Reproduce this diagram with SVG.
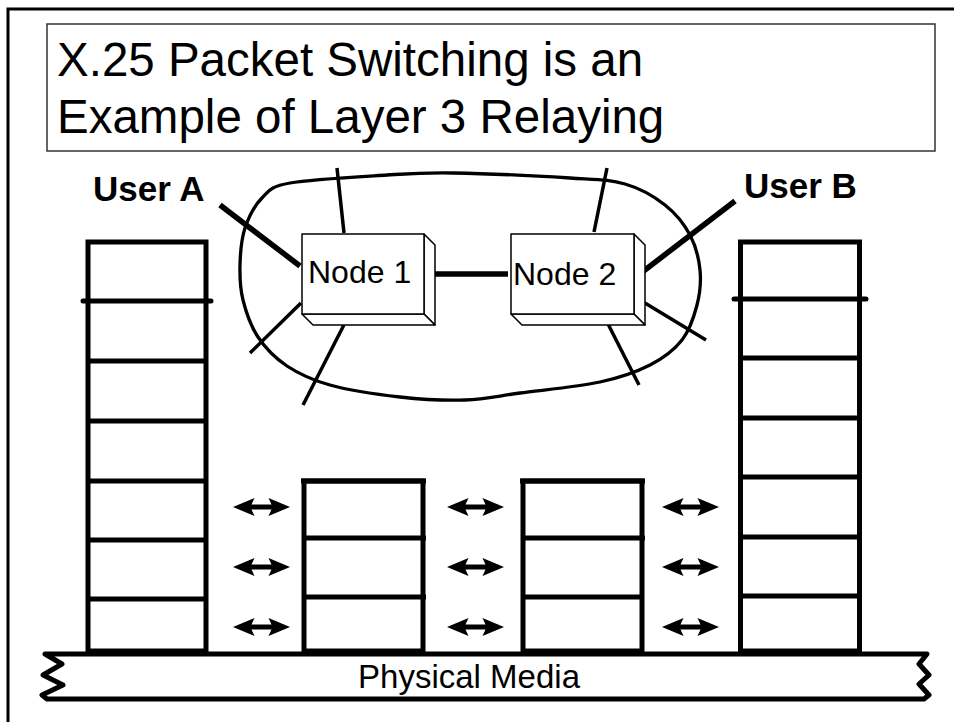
<svg xmlns="http://www.w3.org/2000/svg" width="954" height="722" viewBox="0 0 954 722">
<style>
text{font-family:"Liberation Sans",Arial,Helvetica,sans-serif;fill:#000}
.stk{fill:none;stroke:#000;stroke-width:5}
.div{stroke:#000;stroke-width:5}
.divx{stroke:#000;stroke-width:5;stroke-linecap:round}
.thin{stroke:#000;stroke-width:3.5}
.thick{stroke:#000;stroke-width:5.5}
.box{fill:#fff;stroke:#000;stroke-width:1.5;stroke-linejoin:round}
</style>
<defs>
<path id="dblarrow" d="M-28.5,0 L-7,-9 L-10,-2.5 L10,-2.5 L7,-9 L28.5,0 L7,9 L10,2.5 L-10,2.5 L-7,9 Z" fill="#000"/>
</defs>
<rect width="954" height="722" fill="#fff"/>
<g id="frame">
<path d="M8,722 L8,9 L954,9" fill="none" stroke="#000" stroke-width="3"/>
</g>
<g id="title">
<rect x="47" y="24" width="888" height="127" fill="#fff" stroke="#333" stroke-width="1.5"/>
<text x="57" y="76" font-size="47.5">X.25 Packet Switching is an</text>
<text x="57" y="133" font-size="47.5">Example of Layer 3 Relaying</text>
</g>
<g id="cloud">
<path fill="none" stroke="#000" stroke-width="3.3" d="M290,183 C310.8,179.2 359.8,176.7 387,175 C414.2,173.3 422.5,172.5 453,173 C483.5,173.5 541.3,176.2 570,178 C598.7,179.8 609.2,179.5 625,184 C640.8,188.5 654.2,196.5 665,205 C675.8,213.5 684.2,224.2 690,235 C695.8,245.8 698.8,258.3 700,270 C701.2,281.7 700,293.3 697,305 C694,316.7 689.8,330 682,340 C674.2,350 663.7,358 650,365 C636.3,372 621.7,377.3 600,382 C578.3,386.7 542.5,390 520,393 C497.5,396 485,399.3 465,400 C445,400.7 422.5,399.5 400,397 C377.5,394.5 348.8,390.2 330,385 C311.2,379.8 299,374 287,366 C275,358 265.3,348 258,337 C250.7,326 246,312 243,300 C240,288 239.7,277 240,265 C240.3,253 241.3,239.2 245,228 C248.7,216.8 254.5,205.5 262,198 C269.5,190.5 269.2,186.8 290,183 Z"/>
</g>
<g id="stack-user-a">
<rect class="stk" x="88" y="242" width="118" height="409"/>
<line class="divx" x1="83" y1="301" x2="211" y2="301"/>
<line class="div" x1="88" y1="361" x2="206" y2="361"/>
<line class="div" x1="88" y1="421" x2="206" y2="421"/>
<line class="div" x1="88" y1="481" x2="206" y2="481"/>
<line class="div" x1="88" y1="540" x2="206" y2="540"/>
<line class="div" x1="88" y1="599" x2="206" y2="599"/>
</g>
<g id="stack-node-1">
<rect class="stk" x="304" y="481" width="119" height="170"/>
<line class="div" x1="301" y1="481" x2="426" y2="481" stroke-width="6"/>
<line class="div" x1="304" y1="538" x2="426" y2="538"/>
<line class="div" x1="304" y1="597" x2="426" y2="597"/>
</g>
<g id="stack-node-2">
<rect class="stk" x="523" y="481" width="119" height="170"/>
<line class="div" x1="520" y1="481" x2="645" y2="481" stroke-width="6"/>
<line class="div" x1="523" y1="538" x2="645" y2="538"/>
<line class="div" x1="523" y1="597" x2="642" y2="597"/>
</g>
<g id="stack-user-b">
<rect class="stk" x="740.5" y="242" width="119" height="409"/>
<line class="divx" x1="734" y1="299" x2="866" y2="299"/>
<line class="div" x1="740" y1="358" x2="860" y2="358"/>
<line class="div" x1="740" y1="418" x2="860" y2="418"/>
<line class="div" x1="740" y1="477" x2="860" y2="477"/>
<line class="div" x1="740" y1="537" x2="860" y2="537"/>
<line class="div" x1="740" y1="596" x2="860" y2="596"/>
</g>
<g id="physical-media">
<path d="M45,654 L924,654 L927,654 L919,664 L929,675 L919,684 L929,695 L924,699 L47,699 L42,695 L63,685 L43,675 L62,664 Z" fill="#fff" stroke="#000" stroke-width="5" stroke-linejoin="round"/>
<text x="358" y="688" font-size="34" textLength="222" lengthAdjust="spacingAndGlyphs">Physical Media</text>
</g>
<g id="connectors">
<line class="thick" x1="220" y1="205" x2="300" y2="266"/>
<line class="thick" x1="735" y1="201" x2="641" y2="273"/>
<line class="thick" x1="435" y1="274" x2="508" y2="274"/>
<line class="thin" x1="337" y1="168" x2="344" y2="233"/>
<line class="thin" x1="301" y1="303" x2="250" y2="353"/>
<line class="thin" x1="348" y1="317" x2="303" y2="405"/>
<line class="thin" x1="607" y1="168" x2="594" y2="232"/>
<line class="thin" x1="640" y1="300" x2="706" y2="340"/>
<line class="thin" x1="607" y1="322" x2="639" y2="385"/>
<use href="#dblarrow" x="261.5" y="507"/>
<use href="#dblarrow" x="261.5" y="567"/>
<use href="#dblarrow" x="261.5" y="627"/>
<use href="#dblarrow" x="475.5" y="507"/>
<use href="#dblarrow" x="475.5" y="567"/>
<use href="#dblarrow" x="475.5" y="627"/>
<use href="#dblarrow" x="690.5" y="507"/>
<use href="#dblarrow" x="690.5" y="567"/>
<use href="#dblarrow" x="690.5" y="627"/>
</g>
<g id="node-1">
<path class="box" d="M424,234 L435,245 L435,325 L424,314 Z"/>
<path class="box" d="M302,314 L313,325 L435,325 L424,314 Z"/>
<rect class="box" x="302" y="234" width="122" height="80"/>
<text x="308" y="283" font-size="32">Node 1</text>
</g>
<g id="node-2">
<path class="box" d="M634,234 L645,245 L645,325 L634,314 Z"/>
<path class="box" d="M511,314 L522,325 L645,325 L634,314 Z"/>
<rect class="box" x="511" y="234" width="123" height="80"/>
<text x="513" y="285" font-size="32">Node 2</text>
</g>
<g id="user-a">
<text x="93" y="201" font-size="35" font-weight="bold">User A</text>
</g>
<g id="user-b">
<text x="744" y="198" font-size="35" font-weight="bold">User B</text>
</g>
</svg>
